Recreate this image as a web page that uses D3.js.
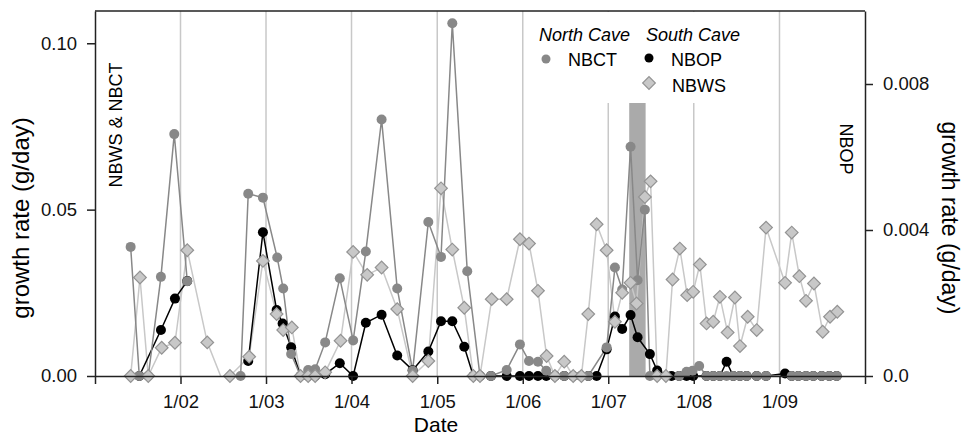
<!DOCTYPE html>
<html>
<head>
<meta charset="utf-8">
<script src="https://cdnjs.cloudflare.com/ajax/libs/d3/7.8.5/d3.min.js"></script>
<style>
  body { margin: 0; background: #fff; }
  svg { font-family: "Liberation Sans", Arial, sans-serif; }
</style>
</head>
<body>
<script>
// sampling dates as decimal years, values in g/day (null = no sample)
const nbctDates = [2001.417, 2001.518, 2001.623, 2001.771, 2001.927, 2002.079, 2002.4,
  2002.703, 2002.792, 2002.964, 2003.131, 2003.201, 2003.294, 2003.404, 2003.493, 2003.575,
  2003.692, 2003.863, 2004.019, 2004.167, 2004.351, 2004.533, 2004.713, 2004.896,
  2005.044, 2005.176, 2005.351, 2005.500, 2005.628, 2005.812, 2005.967,
  2006.073, 2006.178, 2006.275, 2006.376, 2006.485, 2006.590, 2006.684, 2006.766, 2006.981,
  2007.078, 2007.163, 2007.261, 2007.343, 2007.428, 2007.487, 2007.829, 2007.916, 2007.986,
  2008.063, 2008.149, 2008.227, 2008.305, 2008.383, 2008.460, 2008.539, 2008.617, 2008.734, 2008.843,
  2009.143, 2009.220, 2009.310, 2009.395, 2009.493, 2009.582, 2009.669];
const nbctValues = [0.0388, 0, 0, 0.0298, 0.0727, 0.0285, null,
  0, 0.0548, 0.0536, 0.0356, 0.0263, 0.0066, 0, 0.0018, 0.002,
  0.0101, 0.0294, 0.0107, 0.0374, 0.0771, 0.0263, 0.0016, 0.0463,
  0.0358, 0.106, 0.0315, 0, 0, 0.0018, 0.0095,
  0.0045, 0.0043, 0.0016, 0, 0, 0, 0, 0, 0.0086,
  0.0326, 0.026, 0.0689, 0.0288, 0.050, 0, 0, 0.0013, 0.0016,
  0.003, 0, 0, 0, 0, 0, 0, 0, 0, 0,
  0, 0, 0, 0, 0, 0, 0];

const nbwsDates = [2001.417, 2001.526, 2001.623, 2001.780, 2001.935, 2002.079, 2002.313, 2002.500, 2002.578, 2002.803,
  2002.964, 2003.124, 2003.201, 2003.302, 2003.404, 2003.493, 2003.575, 2003.692, 2003.872, 2004.019,
  2004.183, 2004.351, 2004.533, 2004.713, 2004.896, 2005.044, 2005.176, 2005.316, 2005.422, 2005.500,
  2005.637, 2005.812, 2005.967, 2006.073, 2006.178, 2006.279, 2006.376, 2006.485, 2006.590, 2006.686,
  2006.766, 2006.864, 2006.981, 2007.078, 2007.163, 2007.261, 2007.331, 2007.428, 2007.495, 2007.572,
  2007.674, 2007.752, 2007.837, 2007.923, 2007.993, 2008.071, 2008.149, 2008.227, 2008.305, 2008.395,
  2008.480, 2008.539, 2008.629, 2008.734, 2008.843, 2009.065, 2009.143, 2009.232, 2009.310, 2009.403,
  2009.505, 2009.591, 2009.676];
const nbwsValues = [0, 0.0296, 0, 0.0085, 0.010, 0.0378, 0.0101, -0.002, 0, 0.0058,
  0.0346, 0.0186, 0.0138, 0.0146, 0, 0, 0, 0.0011, 0.0106, 0.0373,
  0.0304, 0.0326, 0.0201, 0, 0.0045, 0.0564, 0.038, 0.0205, 0, 0,
  0.0231, 0.0231, 0.0411, 0.0398, 0.0256, 0.006, 0, 0.0043, 0, 0,
  0.0186, 0.0456, 0.0378, 0.0163, 0.025, 0.028, 0.0218, 0.0538, 0.0585, 0,
  0, 0.029, 0.0383, 0.0243, 0.0253, 0.0335, 0.0158, 0.0163, 0.0238, 0.0131,
  0.0236, 0.009, 0.0178, 0.0138, 0.0446, 0.028, 0.0431, 0.030, 0.0226, 0.0278,
  0.0133, 0.0178, 0.0193];

// NBOP is on the right axis
const nbopDates = [2001.518, 2001.771, 2001.935, 2002.079, 2002.4, 2002.792, 2002.964, 2003.124, 2003.194, 2003.294,
  2003.404, 2003.493, 2003.575, 2003.692, 2003.863, 2004.019, 2004.167, 2004.351, 2004.533, 2004.713,
  2004.896, 2005.044, 2005.176, 2005.316, 2005.422, 2005.500, 2005.628, 2005.812, 2005.967, 2006.073,
  2006.178, 2006.275, 2006.376, 2006.485, 2006.590, 2006.684, 2006.766, 2006.864, 2006.981, 2007.078,
  2007.163, 2007.261, 2007.343, 2007.487, 2007.572, 2007.740, 2007.829, 2007.916, 2007.993, 2008.149,
  2008.227, 2008.305, 2008.383, 2008.460, 2008.539, 2008.617, 2008.734, 2008.843, 2009.065, 2009.143,
  2009.220, 2009.310, 2009.395, 2009.493, 2009.582, 2009.669];
const nbopValues = [0, 0.00126, 0.00212, 0.0026, null, 0.00041, 0.00394, 0.00181, 0.00144, 0.00079,
  0, 0, 0, 0.00005, 0.00035, 0, 0.00146, 0.00168, 0.00056, 0.00016,
  0.00067, 0.0015, 0.0015, 0.0008, 0, 0, 0, 0, 0, 0,
  0, 0, 0, 0, 0, 0, 0, 0, 0.00073, 0.00163,
  0.00129, 0.00167, 0.00106, 0.0006, 0.00015, 0, 0, 0, 0, 0,
  0, 0, 0.00039, 0, 0, 0, 0, 0, 0.00007, 0,
  0, 0, 0, 0, 0, 0];

const shadeDates = [2007.245, 2007.437];
const shadeTop = 0.0844;
const yearTicks = [2001, 2002, 2003, 2004, 2005, 2006, 2007, 2008, 2009, 2010];
const leftTicks = [0, 0.05, 0.10];
const rightTicks = [0, 0.004, 0.008];

const toDate = t => {
    const y = Math.floor(t);
    const a = new Date(y, 0, 1), b = new Date(y + 1, 0, 1);
    return new Date(+a + (t - y) * (b - a));
};
const pack = (dates, values) => dates.map((d, i) => ({date: toDate(d), v: values[i]}));

const WIDTH = 964, HEIGHT = 436;
const margin = {top: 11, right: 99, bottom: 60, left: 95};
const svg = d3.select('body').append('svg').attr('width', WIDTH).attr('height', HEIGHT);

const x = d3.scaleTime()
    .domain([toDate(2001), toDate(2010)])
    .range([margin.left, WIDTH - margin.right]);
const yL = d3.scaleLinear().domain([0, 0.1097]).range([HEIGHT - margin.bottom, margin.top]);
const yR = d3.scaleLinear().domain([0, 0.01]).range([HEIGHT - margin.bottom, margin.top]);

svg.append('clipPath').attr('id', 'plot')
    .append('rect')
    .attr('x', margin.left).attr('y', margin.top)
    .attr('width', WIDTH - margin.left - margin.right)
    .attr('height', HEIGHT - margin.top - margin.bottom);

// year grid
svg.append('g').selectAll('line')
    .data(yearTicks.slice(1, -1))
    .enter().append('line')
    .attr('x1', d => x(toDate(d))).attr('x2', d => x(toDate(d)))
    .attr('y1', margin.top).attr('y2', HEIGHT - margin.bottom)
    .style('stroke', '#c8c8c8').style('stroke-width', 1.5);

// shaded period
svg.append('rect')
    .attr('x', x(toDate(shadeDates[0])))
    .attr('width', x(toDate(shadeDates[1])) - x(toDate(shadeDates[0])))
    .attr('y', yL(shadeTop))
    .attr('height', yL(0) - yL(shadeTop))
    .style('fill', '#aaaaaa');

// legend background hides the grid
svg.append('rect')
    .attr('x', 530).attr('y', 12).attr('width', 232).attr('height', 91)
    .style('fill', '#fff');

let drawLine = (data, y, color) => {
    svg.append('path')
        .datum(data)
        .attr('clip-path', 'url(#plot)')
        .attr('d', d3.line().defined(d => d.v != null).x(d => x(d.date)).y(d => y(d.v)))
        .style('fill', 'none')
        .style('stroke', color)
        .style('stroke-width', 1.5);
};

const nbop = pack(nbopDates, nbopValues);
const nbct = pack(nbctDates, nbctValues);
const nbws = pack(nbwsDates, nbwsValues);

const diamond = d3.symbol().type(d3.symbolSquare).size(80);

drawLine(nbws, yL, '#c8c8c8');
drawLine(nbop, yR, '#000');
drawLine(nbct, yL, '#888888');

svg.append('g').selectAll('circle')
    .data(nbop.filter(d => d.v != null))
    .enter().append('circle')
    .attr('cx', d => x(d.date)).attr('cy', d => yR(d.v)).attr('r', 5)
    .style('fill', '#000');

svg.append('g').selectAll('circle')
    .data(nbct.filter(d => d.v != null))
    .enter().append('circle')
    .attr('cx', d => x(d.date)).attr('cy', d => yL(d.v)).attr('r', 5)
    .style('fill', '#888888');

svg.append('g').selectAll('path')
    .data(nbws.filter(d => d.v >= 0))
    .enter().append('path')
    .attr('d', diamond)
    .attr('transform', d => `translate(${x(d.date)},${yL(d.v)}) rotate(45)`)
    .style('fill', '#c8c8c8')
    .style('stroke', '#939393')
    .style('stroke-width', 1.2);

// axes
const fmtYear = d3.timeFormat('%-m/%y');
const xAxis = d3.axisBottom(x)
    .tickValues(yearTicks.map(toDate))
    .tickFormat((d, i) => (i === 0 || i === yearTicks.length - 1) ? '' : fmtYear(d))
    .tickSize(8).tickPadding(11).tickSizeOuter(0);
const yAxisL = d3.axisLeft(yL).tickValues(leftTicks).tickFormat(d3.format('.2f'))
    .tickSize(8).tickPadding(10).tickSizeOuter(0);
const yAxisR = d3.axisRight(yR).tickValues(rightTicks)
    .tickFormat(d => d === 0 ? '0.0' : d3.format('.3f')(d))
    .tickSize(8).tickPadding(10).tickSizeOuter(0);

svg.append('g').attr('class', 'axis')
    .attr('transform', 'translate(0,' + (HEIGHT - margin.bottom) + ')')
    .call(xAxis);
svg.append('g').attr('class', 'axis')
    .attr('transform', 'translate(' + margin.left + ',0)')
    .call(yAxisL);
svg.append('g').attr('class', 'axis')
    .attr('transform', 'translate(' + (WIDTH - margin.right) + ',0)')
    .call(yAxisR);
svg.append('line')
    .attr('x1', margin.left).attr('x2', WIDTH - margin.right)
    .attr('y1', margin.top).attr('y2', margin.top)
    .style('stroke', '#222').style('stroke-width', 1.5);

svg.selectAll('.axis path, .axis line').style('stroke', '#222').style('stroke-width', 1.5);
svg.selectAll('.axis text').style('font-size', '18.5px').style('fill', '#111')
    .style('font-family', '"Liberation Sans", Arial, sans-serif');

// titles
svg.append('text')
    .attr('x', 436).attr('y', 431.5)
    .style('text-anchor', 'middle').style('font-size', '21px')
    .text('Date');
svg.append('text')
    .attr('transform', 'translate(29,218) rotate(-90)')
    .style('text-anchor', 'middle').style('font-size', '24px')
    .text('growth rate (g/day)');
svg.append('text')
    .attr('transform', 'translate(942,218) rotate(90)')
    .style('text-anchor', 'middle').style('font-size', '23px')
    .text('growth rate (g/day)');
svg.append('text')
    .attr('transform', 'translate(122,125) rotate(-90)')
    .style('text-anchor', 'middle').style('font-size', '18px')
    .text('NBWS & NBCT');
svg.append('text')
    .attr('transform', 'translate(840,149) rotate(90)')
    .style('text-anchor', 'middle').style('font-size', '18px')
    .text('NBOP');

// legend
const legend = svg.append('g');
legend.append('text').attr('x', 539).attr('y', 41)
    .style('font-style', 'italic').style('font-size', '18px').text('North Cave');
legend.append('text').attr('x', 646).attr('y', 41)
    .style('font-style', 'italic').style('font-size', '18px').text('South Cave');
legend.append('circle').attr('cx', 546).attr('cy', 59).attr('r', 4.5).style('fill', '#888888');
legend.append('text').attr('x', 568).attr('y', 66).style('font-size', '18px').text('NBCT');
legend.append('circle').attr('cx', 649).attr('cy', 58).attr('r', 4.5).style('fill', '#000');
legend.append('text').attr('x', 671).attr('y', 66).style('font-size', '18px').text('NBOP');
legend.append('path').attr('d', diamond)
    .attr('transform', 'translate(649,83) rotate(45)')
    .style('fill', '#c8c8c8').style('stroke', '#939393').style('stroke-width', 1.2);
legend.append('text').attr('x', 672).attr('y', 92).style('font-size', '18px').text('NBWS');
</script>
</body>
</html>
